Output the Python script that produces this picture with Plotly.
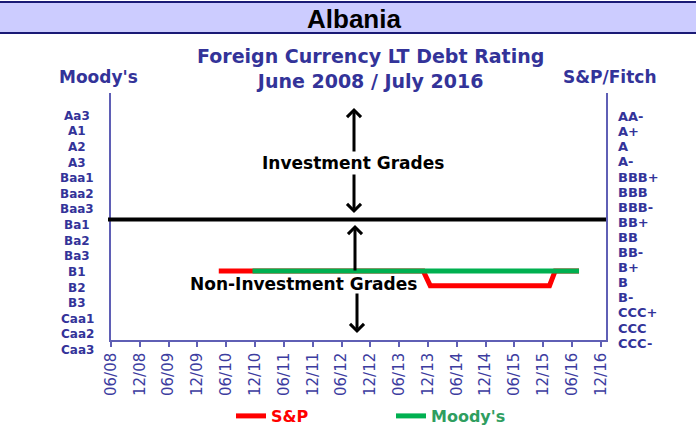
import plotly.graph_objects as go

# rating scales (top = best), Moody's on the left, S&P/Fitch on the right
moodys_scale = ['Aa3', 'A1', 'A2', 'A3', 'Baa1', 'Baa2', 'Baa3', 'Ba1', 'Ba2', 'Ba3',
                'B1', 'B2', 'B3', 'Caa1', 'Caa2', 'Caa3']
sp_scale = ['AA-', 'A+', 'A', 'A-', 'BBB+', 'BBB', 'BBB-', 'BB+', 'BB', 'BB-',
            'B+', 'B', 'B-', 'CCC+', 'CCC', 'CCC-']

# rating history
sp_dates = ['2010-04-15', '2013-11-01', '2013-12-15', '2016-01-10', '2016-02-15', '2016-07-15']
sp_ratings = ['B+', 'B+', 'B', 'B', 'B+', 'B+']
moodys_dates = ['2010-11-15', '2016-07-15']
moodys_ratings = ['B1', 'B1']

x_tick_labels = ['06/08', '12/08', '06/09', '12/09', '06/10', '12/10', '06/11', '12/11',
                 '06/12', '12/12', '06/13', '12/13', '06/14', '12/14', '06/15', '12/15',
                 '06/16', '12/16']
x_tick_dates = ['20%s-%s-01' % (t[3:], t[:2]) for t in x_tick_labels]

# Baa3/BBB- | Ba1/BB+ boundary
investment_limit = 6.5

NAVY = '#333399'
AXIS = '#5F5FB5'
FONT = 'DejaVu Sans'

# layout helpers (pixel -> paper)
L, R, T, B, W, H = 111, 90, 93, 96, 696, 436
PW, PH = W - L - R, H - T - B


def px(x):
    return (x - L) / PW


def py(y):
    return (H - B - y) / PH


fig = go.Figure()

fig.add_trace(go.Scatter(
    x=sp_dates, y=[sp_scale.index(r) for r in sp_ratings],
    mode='lines', line=dict(color='#FF0000', width=5),
    name='<span style="color:#FF0000">S&P</span>'
))
fig.add_trace(go.Scatter(
    x=moodys_dates, y=[moodys_scale.index(r) for r in moodys_ratings],
    mode='lines', line=dict(color='#00B050', width=5),
    name='<span style="color:#2F9E5F">Moody\'s</span>'
))

annotations = []

# rating labels on both sides
for i, lab in enumerate(moodys_scale):
    annotations.append(dict(
        x=px(77), xref='paper', y=py(115.8 + 15.61 * i), yref='paper',
        text=lab, showarrow=False, xanchor='center', yanchor='middle',
        font=dict(family=FONT, size=12, color=NAVY, weight='bold')
    ))
for i, lab in enumerate(sp_scale):
    annotations.append(dict(
        x=px(616), xref='paper', y=py(116.6 + 15.1 * i), yref='paper',
        text=lab, showarrow=False, xanchor='left', yanchor='middle',
        font=dict(family=FONT, size=13, color=NAVY, weight='bold')
    ))

# titles
titles = [
    dict(x=px(353.5), y=py(19.5), text='Albania',
         font=dict(family='Arial', size=26, color='black', weight='bold')),
    dict(x=px(370.5), y=py(68), text='Foreign Currency LT Debt Rating<br>June 2008 / July 2016',
         font=dict(family=FONT, size=19, color=NAVY, weight='bold')),
    dict(x=px(98), y=py(76.5), text="Moody's",
         font=dict(family=FONT, size=17, color=NAVY, weight='bold')),
    dict(x=px(609), y=py(76.5), text='S&P/Fitch',
         font=dict(family=FONT, size=17, color=NAVY, weight='bold')),
    dict(x=px(353), y=py(163), text='Investment Grades',
         font=dict(family=FONT, size=17, color='black', weight='bold')),
    dict(x=px(303.5), y=py(284), text='Non-Investment Grades',
         font=dict(family=FONT, size=17, color='black', weight='bold')),
]
for a in titles:
    a.update(xref='paper', yref='paper', showarrow=False,
             xanchor='center', yanchor='middle')
annotations += titles

# arrows: (x, head y, tail offset)
for ax_x, head_y, tail in [(354, 108, 45), (354, 213, -40), (355, 225, 47), (357, 333, -41)]:
    annotations.append(dict(
        x=px(ax_x), y=py(head_y), xref='paper', yref='paper', text='',
        showarrow=True, ax=0, ay=tail, arrowhead=4, arrowsize=0.9,
        arrowwidth=3, arrowcolor='black'
    ))

shapes = [
    dict(type='rect', xref='paper', yref='paper', x0=px(0), x1=px(W),
         y0=py(33), y1=py(2), fillcolor='#CCCCFF', line=dict(width=0), layer='below'),
    dict(type='line', xref='paper', yref='paper', x0=px(0), x1=px(W),
         y0=py(2), y1=py(2), line=dict(color='#1A1A75', width=2)),
    dict(type='line', xref='paper', yref='paper', x0=px(0), x1=px(W),
         y0=py(33), y1=py(33), line=dict(color='#1A1A75', width=2)),
    dict(type='line', xref='paper', yref='y', x0=px(108), x1=1,
         y0=investment_limit, y1=investment_limit, line=dict(color='black', width=4)),
]

fig.update_layout(
    width=W, height=H,
    margin=dict(l=L, r=R, t=T, b=B, autoexpand=False),
    paper_bgcolor='white', plot_bgcolor='white',
    annotations=annotations, shapes=shapes,
    showlegend=True,
    legend=dict(orientation='h', x=px(231), xanchor='left', y=py(416), yanchor='middle',
                entrywidth=115, entrywidthmode='pixels', bgcolor='rgba(0,0,0,0)',
                font=dict(family=FONT, size=16, weight='bold')),
    xaxis=dict(type='date', range=['2008-06-01', '2017-01-02'], automargin=False,
               tickvals=x_tick_dates, ticktext=x_tick_labels, tickangle=-90,
               ticks='outside', ticklen=5, tickwidth=1.5, tickcolor=AXIS,
               showline=True, linecolor=AXIS, linewidth=1.5,
               showgrid=False, zeroline=False,
               tickfont=dict(family=FONT, size=15, color='#3C3CA0')),
    yaxis=dict(range=[14.697, -2.105], showticklabels=False, ticks='', automargin=False,
               showgrid=False, zeroline=False,
               showline=True, mirror=True, linecolor=AXIS, linewidth=1.5),
)

# drop the browser's default page margin so the figure sits at the window origin
fig.write_html('out.html', config={'displayModeBar': False},
               post_script="document.body.style.margin='0';")
